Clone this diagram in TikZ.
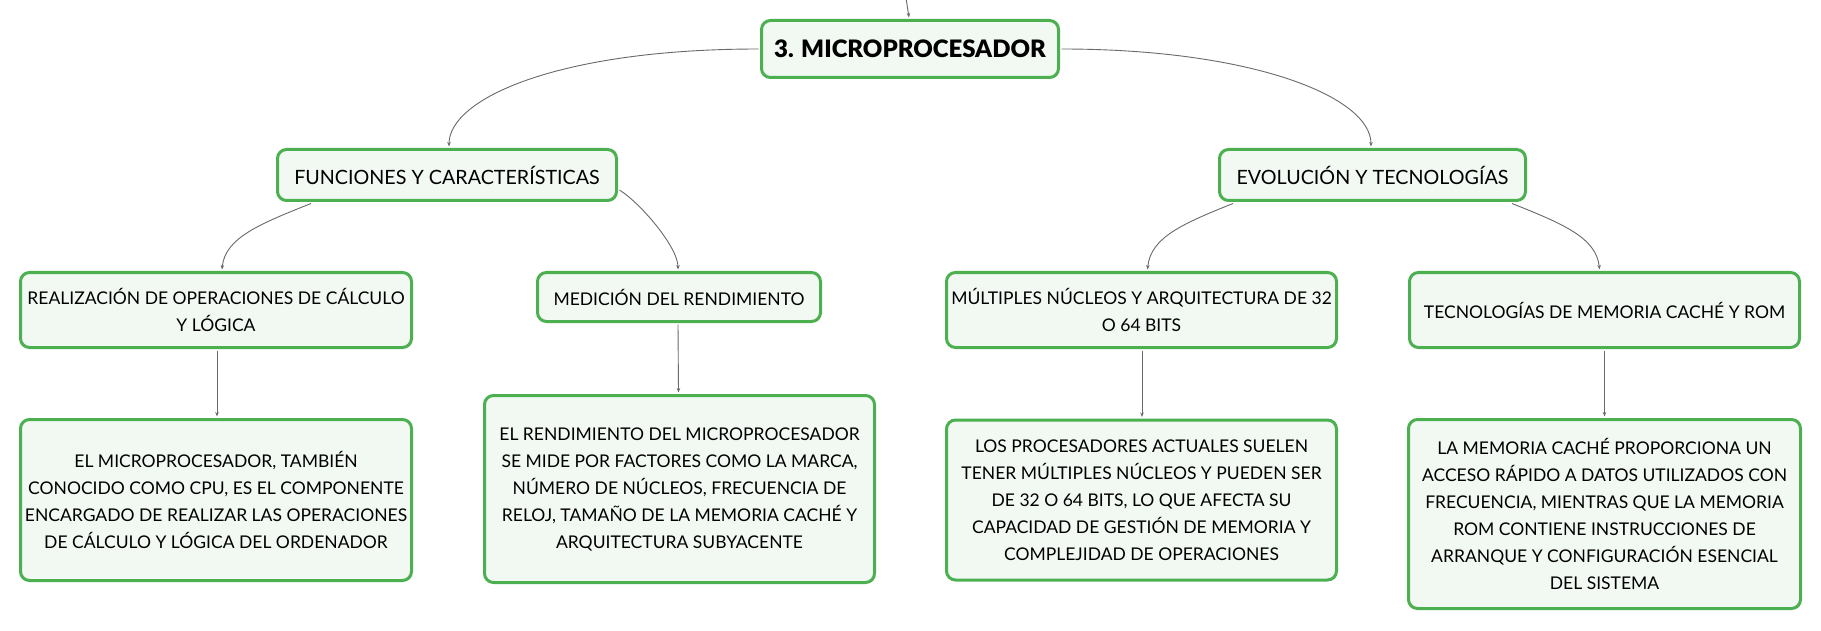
\documentclass[tikz,border=0pt]{standalone}
\usepackage{fontspec}
\setmainfont{Lato}
\newfontfamily\rootfont{Lato Black}
\usetikzlibrary{arrows.meta,calc}
\definecolor{boxgreen}{RGB}{76,175,80}
\definecolor{boxfill}{RGB}{242,249,243}
\definecolor{conngray}{RGB}{105,105,105}
\begin{document}
\begin{tikzpicture}[x=1pt,y=-1pt,
  box/.style={draw=boxgreen, fill=boxfill, line width=3pt, rounded corners=9pt,
    align=center, inner sep=0pt, font=\fontsize{17.5}{27}\selectfont},
  lvlone/.style={box, font=\fontsize{19.7}{27}\selectfont},
  conn/.style={draw=conngray, line width=0.9pt, -{Stealth[length=4.5pt,width=3.5pt]}}
]
\useasboundingbox (0,0) rectangle (1821,631);
\fill[white] (0,0) rectangle (1821,631);

\node[box, minimum width=297, minimum height=57, font=\rootfont\fontsize{24}{28}\selectfont] (root) at (910,49) {3. MICROPROCESADOR};

\node[lvlone, minimum width=339, minimum height=51] (fun) at (447,175) {FUNCIONES Y CARACTERÍSTICAS};
\node[lvlone, minimum width=306, minimum height=51] (evo) at (1372.5,175) {EVOLUCIÓN Y TECNOLOGÍAS};

\node[box, minimum width=391, minimum height=75] (real) at (216,310) {REALIZACIÓN DE OPERACIONES DE CÁLCULO\\Y LÓGICA};
\node[box, minimum width=283, minimum height=49] (med) at (679,297) {MEDICIÓN DEL RENDIMIENTO};
\node[box, minimum width=390, minimum height=75] (mult) at (1141.5,310) {MÚLTIPLES NÚCLEOS Y ARQUITECTURA DE 32\\O 64 BITS};
\node[box, minimum width=390, minimum height=75] (tec) at (1604.5,310) {TECNOLOGÍAS DE MEMORIA CACHÉ Y ROM};

\node[box, minimum width=391, minimum height=161] (micro) at (216,500) {EL MICROPROCESADOR, TAMBIÉN\\CONOCIDO COMO CPU, ES EL COMPONENTE\\ENCARGADO DE REALIZAR LAS OPERACIONES\\DE CÁLCULO Y LÓGICA DEL ORDENADOR};
\node[box, minimum width=390, minimum height=187] (rend) at (679.5,489) {EL RENDIMIENTO DEL MICROPROCESADOR\\SE MIDE POR FACTORES COMO LA MARCA,\\NÚMERO DE NÚCLEOS, FRECUENCIA DE\\RELOJ, TAMAÑO DE LA MEMORIA CACHÉ Y\\ARQUITECTURA SUBYACENTE};
\node[box, minimum width=390, minimum height=160] (proc) at (1141.5,500) {LOS PROCESADORES ACTUALES SUELEN\\TENER MÚLTIPLES NÚCLEOS Y PUEDEN SER\\DE 32 O 64 BITS, LO QUE AFECTA SU\\CAPACIDAD DE GESTIÓN DE MEMORIA Y\\COMPLEJIDAD DE OPERACIONES};
\node[box, minimum width=392, minimum height=189] (mem) at (1604.5,514) {LA MEMORIA CACHÉ PROPORCIONA UN\\ACCESO RÁPIDO A DATOS UTILIZADOS CON\\FRECUENCIA, MIENTRAS QUE LA MEMORIA\\ROM CONTIENE INSTRUCCIONES DE\\ARRANQUE Y CONFIGURACIÓN ESENCIAL\\DEL SISTEMA};

% connectors
\coordinate (topin) at (906,-2);
\draw[conn] (topin) -- ($(root.north)+(-1,-1.5)$);

\draw[conn] ($(root.west)+(-1.5,0)$) .. controls +(-200,0) and +(0,-48) .. ($(fun.north)+(2,-1.5)$);
\draw[conn] ($(root.east)+(1.5,0)$) .. controls +(190,0) and +(0,-50) .. ($(evo.north)+(-1.5,-1.5)$);

\draw[conn] ($(fun.south west)+(35,1.5)$) .. controls +(-50,20) and +(3,-32) .. ($(real.north)+(6,-1.5)$);
\draw[conn] ($(fun.east)+(1.5,15)$) .. controls +(22,14) and +(0,-22) .. ($(med.north)+(-1,-1.5)$);
\draw[conn] ($(evo.south west)+(15,1.5)$) .. controls +(-50,20) and +(3,-32) .. ($(mult.north)+(6,-1.5)$);
\draw[conn] ($(evo.south east)+(-15,1.5)$) .. controls +(50,20) and +(-3,-32) .. ($(tec.north)+(-5,-1.5)$);

\draw[conn] ($(real.south)+(1,1.5)$) -- ($(micro.north)+(1,-1.5)$);
\draw[conn] ($(med.south)+(-1,1.5)$) -- ($(rend.north)+(-1,-1.5)$);
\draw[conn] ($(mult.south)+(0.5,1.5)$) -- ($(proc.north)+(0.5,-1.5)$);
\draw[conn] ($(tec.south)+(0,1.5)$) -- ($(mem.north)+(0,-1.5)$);
\end{tikzpicture}
\end{document}
